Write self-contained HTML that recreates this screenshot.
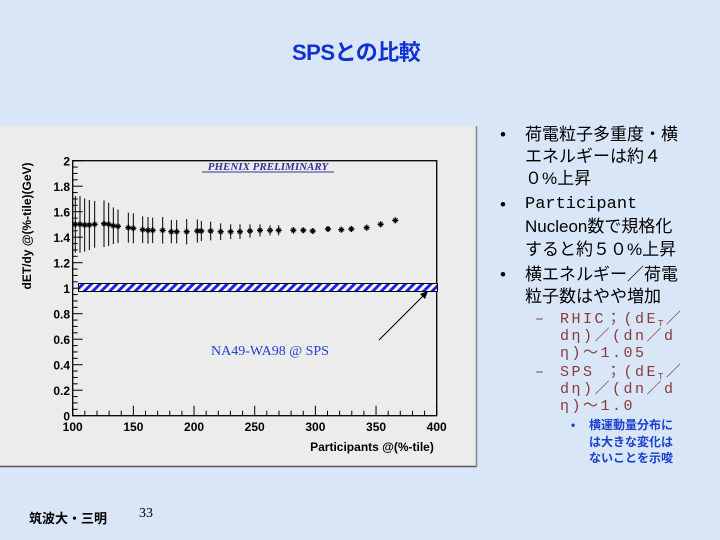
<!DOCTYPE html>
<html><head><meta charset="utf-8"><style>
body{margin:0;width:720px;height:540px;overflow:hidden;background:#d9e6f7;font-family:"Liberation Sans","Noto Sans CJK JP",sans-serif;position:relative}
.t{position:absolute;white-space:nowrap}
.sub{position:absolute;white-space:nowrap;font-size:15px;line-height:17px;color:#8a3a3a;font-family:'Liberation Mono','Noto Sans CJK JP',monospace;letter-spacing:2.5px}
.sub sub{font-size:9px;line-height:0;vertical-align:baseline;position:relative;top:3px}
</style></head><body>
<div class="t" style="left:292px;top:35px;font-size:22px;font-weight:bold;color:#1030d0;letter-spacing:-0.5px">SPSとの比較</div>
<svg width="720" height="540" style="position:absolute;left:0;top:0">
<defs><pattern id="h" patternUnits="userSpaceOnUse" width="6" height="6" patternTransform="rotate(45)"><rect width="6" height="6" fill="#fff"/><rect width="3" height="6" fill="#2020ee"/></pattern></defs>
<rect x="0" y="126" width="477" height="341" fill="#ececec"/>
<line x1="0" y1="466.5" x2="477" y2="466.5" stroke="#555" stroke-width="1.5"/>
<line x1="476.5" y1="126" x2="476.5" y2="467" stroke="#888" stroke-width="1.5"/>
<rect x="72.7" y="160.7" width="364" height="255" fill="none" stroke="#000" stroke-width="1.3"/>
<g id="ticks" stroke="#000" stroke-width="1"></g>
<rect x="78.5" y="283.5" width="359" height="8" fill="url(#h)" stroke="#000" stroke-width="1"/>
<line x1="379" y1="340" x2="426" y2="293" stroke="#000" stroke-width="1"/>
<polygon points="428,291 420,294 425,299" fill="#000"/>
<g id="pts" stroke="#000" stroke-width="1"></g>
<g font-family="Liberation Sans,sans-serif" font-weight="bold" font-size="12" fill="#000" id="lbl"></g>
<text x="268" y="170" font-family="Liberation Serif,serif" font-style="italic" font-weight="bold" font-size="11" fill="#333399" text-anchor="middle">PHENIX PRELIMINARY</text>
<line x1="202" y1="172" x2="334" y2="172" stroke="#333399" stroke-width="1"/>
<text x="270" y="355" font-family="Liberation Serif,serif" font-size="14" fill="#2040d0" text-anchor="middle">NA49-WA98 @ SPS</text>
<text x="372" y="451" font-family="Liberation Sans,sans-serif" font-weight="bold" font-size="12" text-anchor="middle">Participants @(%-tile)</text>
<text transform="translate(31,226) rotate(-90)" font-family="Liberation Sans,sans-serif" font-weight="bold" font-size="12" text-anchor="middle">dET/dy @(%-tile)(GeV)</text>
</svg>
<script>
var ns="http://www.w3.org/2000/svg";
function el(p,n,a,t){var e=document.createElementNS(ns,n);for(var k in a)e.setAttribute(k,a[k]);if(t!=null)e.textContent=t;document.getElementById(p).appendChild(e);}
var X0=72.7,X1=436.7,Y0=415.7,Y1=160.7;
function px(v){return X0+(v-100)*(X1-X0)/300}
function py(v){return Y0-v*(Y0-Y1)/2}
for(var v=100;v<=400;v+=10){var M=v%50==0;el("ticks","line",{x1:px(v),x2:px(v),y1:Y0,y2:Y0-(M?10:5)});}
for(var i=0;i<=40;i++){var v=i*0.05,M=i%4==0;el("ticks","line",{x1:X0,x2:X0+(M?10:5),y1:py(v),y2:py(v)});}
for(var v=100;v<=400;v+=50)el("lbl","text",{x:px(v),y:431,"text-anchor":"middle"},v);
var yl=["0","0.2","0.4","0.6","0.8","1","1.2","1.4","1.6","1.8","2"];
for(var i=0;i<=10;i++)el("lbl","text",{x:70,y:py(i*0.2)+5,"text-anchor":"end"},yl[i]);
var d=[[226,313,85],[240,313,85],[254,315,80],[268,315,75],[284,313,70],[312,311,70],[326,313,65],[340,317,55],[354,319,50],[385,323,45],[400,325,45],[428,329,40],[444,331,40],[458,331,38],[488,331,40],[514,335,35],[530,335,35],[560,335,38],[592,333,35],[604,333,30],[632,333,28],[662,335,25],[692,335,22],[720,335,22],[750,333,20],[780,331,18],[810,331,15],[836,331,15],[880,331,10],[910,331,8],[938,333,6],[984,327,5],[1024,329,0],[1054,327,0],[1100,323,0],[1142,313,0],[1186,301,0]];
d.forEach(function(p){var x=p[0]/3,y=p[1]/3+120,e=p[2]/3;
if(e>0)el("pts","line",{x1:x,x2:x,y1:y-e,y2:y+e});
el("pts","line",{x1:x-3,x2:x+3,y1:y,y2:y,"stroke-width":1.5});
el("pts","line",{x1:x,x2:x,y1:y-3,y2:y+3,"stroke-width":1.5});
el("pts","line",{x1:x-2,x2:x+2,y1:y-2,y2:y+2});el("pts","line",{x1:x-2,x2:x+2,y1:y+2,y2:y-2});});
</script>
<div class="t" style="left:500px;top:124px;font-size:17px;line-height:22px">•</div>
<div class="t" style="left:525px;top:124px;font-size:17px;line-height:22px">荷電粒子多重度・横<br>エネルギーは約４<br>０%上昇</div>
<div class="t" style="left:500px;top:194px;font-size:17px;line-height:22px">•</div>
<div class="t" style="left:500px;top:264px;font-size:17px;line-height:22px">•</div>
<div class="t" style="left:525px;top:194px;font-size:17px;line-height:21.5px;font-family:'Liberation Mono','Noto Sans CJK JP',monospace">Participant<br><span style="font-family:'Liberation Sans','Noto Sans CJK JP',sans-serif">Nucleon数で規格化<br>すると約５０%上昇</span></div>
<div class="t" style="left:525px;top:264px;font-size:17px;line-height:22px">横エネルギー／荷電<br>粒子数はやや増加</div>
<div class="sub" style="left:535px;top:311px">–</div>
<div class="sub" style="left:560px;top:311px">RHIC；(dE<sub>T</sub>／<br>dη)／(dn／d<br>η)～1.05</div>
<div class="sub" style="left:535px;top:364px">–</div>
<div class="sub" style="left:560px;top:364px">SPS ；(dE<sub>T</sub>／<br>dη)／(dn／d<br>η)～1.0</div>
<div class="t" style="left:571px;top:417px;font-size:12px;line-height:16.5px;color:#1a40d0;font-weight:bold">•</div>
<div class="t" style="left:589px;top:417px;font-size:12px;line-height:16.5px;color:#1a40d0;font-weight:bold">横運動量分布に<br>は大きな変化は<br>ないことを示唆</div>
<div class="t" style="left:29px;top:508px;font-size:13px;font-weight:bold">筑波大・三明</div>
<div class="t" style="left:139px;top:506px;font-size:14px;font-family:'Liberation Serif',serif">33</div>
</body></html>
